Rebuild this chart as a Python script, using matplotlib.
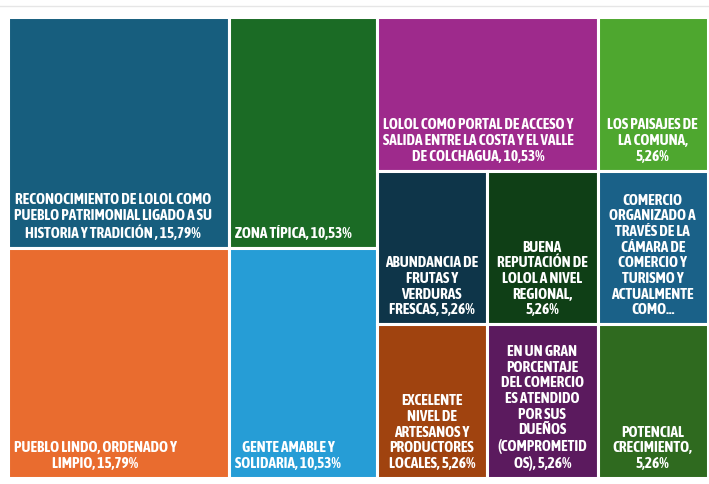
import matplotlib
matplotlib.use("Agg")
import matplotlib.pyplot as plt
from matplotlib.patches import Rectangle

# categories and shares (%), grouped the way the treemap stacks them
labels = [
    "RECONOCIMIENTO DE LOLOL COMO\nPUEBLO PATRIMONIAL LIGADO A SU\nHISTORIA Y TRADICIÓN , 15,79%",
    "PUEBLO LINDO, ORDENADO Y\nLIMPIO, 15,79%",
    "ZONA TÍPICA, 10,53%",
    "GENTE AMABLE Y\nSOLIDARIA, 10,53%",
    "LOLOL COMO PORTAL DE ACCESO Y\nSALIDA ENTRE LA COSTA Y EL VALLE\nDE COLCHAGUA, 10,53%",
    "LOS PAISAJES DE\nLA COMUNA,\n5,26%",
    "ABUNDANCIA DE\nFRUTAS Y\nVERDURAS\nFRESCAS, 5,26%",
    "BUENA\nREPUTACIÓN DE\nLOLOL A NIVEL\nREGIONAL,\n5,26%",
    "COMERCIO\nORGANIZADO A\nTRAVÉS DE LA\nCÁMARA DE\nCOMERCIO Y\nTURISMO Y\nACTUALMENTE\nCOMO...",
    "EXCELENTE\nNIVEL DE\nARTESANOS Y\nPRODUCTORES\nLOCALES, 5,26%",
    "EN UN GRAN\nPORCENTAJE\nDEL COMERCIO\nES ATENDIDO\nPOR SUS\nDUEÑOS\n(COMPROMETID\nOS), 5,26%",
    "POTENCIAL\nCRECIMIENTO,\n5,26%",
]
values = [15.79, 15.79, 10.53, 10.53, 10.53, 5.26, 5.26, 5.26, 5.26, 5.26, 5.26, 5.26]
colors = ["#175E7E", "#E96C2F", "#1B6B25", "#269DD6", "#9E2A8C", "#4EA72F",
          "#0E3549", "#0F3F16", "#1A6188", "#A0430F", "#5B1A5E", "#2F6A1F"]

# layout: columns -> rows -> tiles (indices into the lists above)
columns = [
    [[0], [1]],
    [[2], [3]],
    [[4, 5], [6, 7, 8], [9, 10, 11]],
]

fig = plt.figure(figsize=(7.09, 4.84), dpi=100)
ax = fig.add_axes([8 / 709, 1 - 478 / 484, 700 / 709, 461 / 484])
ax.set_xlim(0, 1)
ax.set_ylim(1, 0)
ax.axis("off")

# faint top rule
fig.add_artist(plt.Line2D([0, 1], [1 - 6 / 484, 1 - 6 / 484], color="#e6e6e6", lw=1))

total = sum(values)
fw, fh = 700, 461  # axes size in pixels
px = 6 / fw
py = 7 / fh

x = 0
for col in columns:
    col_sum = sum(values[i] for row in col for i in row)
    w = col_sum / total
    y = 0
    for row in col:
        row_sum = sum(values[i] for i in row)
        h = row_sum / col_sum
        xx = x
        for i in row:
            tw = values[i] / row_sum * w
            ax.add_patch(Rectangle((xx, y), tw, h, facecolor=colors[i],
                                   edgecolor="white", lw=2.2))
            if tw > 0.18:
                tx, ha = xx + px, "left"
            else:
                tx, ha = xx + tw / 2, "center"
            ax.text(tx, y + h - py, labels[i], ha=ha, va="bottom",
                    multialignment="center", color="white", fontsize=11,
                    fontweight="bold", linespacing=1.15,
                    family=["Asap Condensed", "DejaVu Sans"])
            xx += tw
        y += h
    x += w

fig.savefig("out.png", dpi=100)
